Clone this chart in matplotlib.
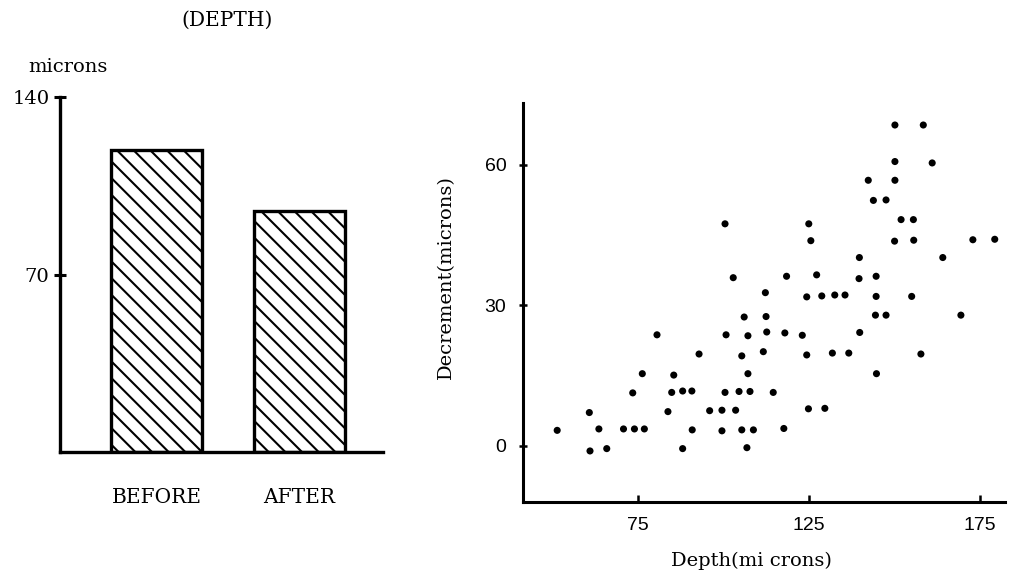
import matplotlib
matplotlib.use("Agg")
import matplotlib.pyplot as plt

# ---- data ----
bar_labels = ["BEFORE", "AFTER"]
bar_values = [119, 95]
bar_yticks = [70, 140]

depth = [51.3, 60.7, 60.9, 63.5, 65.8, 70.7, 73.4, 73.9, 76.2, 76.8,
         80.5, 83.7, 84.8, 85.4, 88.0, 88.0, 90.7, 90.8, 92.8, 95.9,
         99.5, 99.5, 100.4, 100.7, 100.4, 102.8, 103.5, 104.5, 105.3, 105.3,
         106.0, 107.1, 107.1, 106.8, 107.7, 108.7, 111.6, 112.2, 112.4, 112.6,
         114.5, 117.6, 117.9, 118.4, 123.0, 124.3, 124.3, 124.9, 125.5, 124.8,
         129.6, 127.2, 128.7, 131.8, 132.5, 135.5, 136.6, 139.7, 139.6, 139.8,
         142.3, 143.8, 144.6, 144.6, 144.4, 144.7, 147.5, 147.5, 150.1, 150.1,
         150.1, 150.0, 151.9, 155.5, 155.6, 155.0, 157.7, 158.4, 161.0, 164.1,
         169.4, 172.9, 179.3]
decrement = [3.3, 7.1, -1.1, 3.6, -0.6, 3.6, 11.3, 3.6, 15.4, 3.6,
             23.7, 7.3, 11.4, 15.1, 11.7, -0.6, 11.7, 3.4, 19.6, 7.5,
             7.6, 3.2, 47.4, 23.7, 11.4, 35.9, 7.6, 11.6, 19.2, 3.4,
             27.5, 23.5, 15.4, -0.4, 11.6, 3.4, 20.1, 32.7, 27.6, 24.3,
             11.4, 3.7, 24.1, 36.2, 23.6, 31.8, 19.4, 47.4, 43.8, 7.9,
             8.0, 36.5, 32.0, 19.8, 32.2, 32.2, 19.8, 40.2, 35.7, 24.2,
             56.7, 52.4, 36.2, 31.9, 27.9, 15.4, 52.5, 27.9, 68.5, 60.7,
             56.7, 43.7, 48.3, 48.3, 43.9, 31.9, 19.6, 68.5, 60.4, 40.2,
             27.9, 44.0, 44.1]
sc_xticks = [75, 125, 175]
sc_yticks = [0, 30, 60]

SERIF = ["DejaVu Serif"]
SANS = ["Liberation Sans", "DejaVu Sans"]
plt.rcParams["font.family"] = SERIF
plt.rcParams["hatch.linewidth"] = 1.5

fig = plt.figure(figsize=(10.13, 5.82), dpi=100)

# ---- left bar chart ----
ax1 = fig.add_axes([60/1013, 1-452/582, 323/1013, 355/582])
ax1.bar([0, 1], bar_values, width=0.63, facecolor="white", edgecolor="black",
        linewidth=2.4, hatch="\\\\")
ax1.set_xlim(-0.675, 1.584)
ax1.set_ylim(0, 140)
for s in ["top", "right"]:
    ax1.spines[s].set_visible(False)
ax1.spines["left"].set_linewidth(2.4)
ax1.spines["bottom"].set_linewidth(2.4)
ax1.set_xticks([0, 1])
ax1.set_xticklabels(bar_labels, fontsize=14.5)
ax1.tick_params(axis="x", length=0, pad=26)
ax1.set_yticks(bar_yticks)
ax1.set_yticklabels([str(v) for v in bar_yticks], fontsize=14)
ax1.tick_params(axis="y", direction="inout", length=9, width=2.2, pad=3)
fig.text(227/1013, 1-20/582, "(DEPTH)", ha="center", va="center", fontsize=14.5)
fig.text(68/1013, 1-67/582, "microns", ha="center", va="center", fontsize=14)

# ---- right scatter ----
ax2 = fig.add_axes([523/1013, 1-502/582, 482/1013, 399/582])
ax2.scatter(depth, decrement, s=26, color="black", edgecolors="none")
ax2.set_xlim(41.3, 182.3)
ax2.set_ylim(-12, 73.2)
for s in ["top", "right"]:
    ax2.spines[s].set_visible(False)
ax2.spines["left"].set_linewidth(2.2)
ax2.spines["bottom"].set_linewidth(2.2)
ax2.set_xticks(sc_xticks)
ax2.set_xticklabels([str(v) for v in sc_xticks], fontsize=14, family=SANS)
ax2.tick_params(axis="x", direction="in", length=5, width=1.8, pad=11)
ax2.set_yticks(sc_yticks)
ax2.set_yticklabels([str(v) for v in sc_yticks], fontsize=14, family=SANS)
ax2.tick_params(axis="y", direction="inout", length=6, width=1.8, pad=9)
ax2.set_ylabel("Decrement(microns)", fontsize=14)
ax2.yaxis.set_label_coords(-0.141, 0.564)
ax2.set_xlabel("Depth(mi crons)", fontsize=14)
ax2.xaxis.set_label_coords(0.473, -0.125)

fig.savefig("out.png", dpi=100)
